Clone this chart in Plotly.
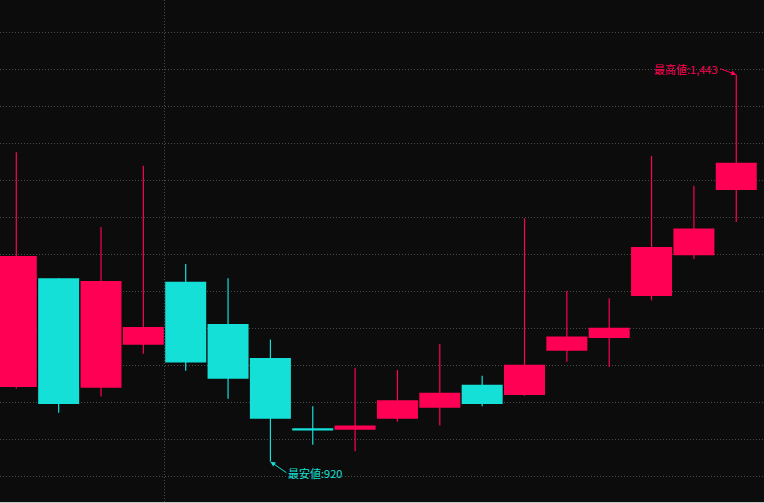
import plotly.graph_objects as go

# ---- data ----
idx = list(range(18))
open_ = [1021, 1168, 1020, 1078, 1163, 1106, 1060, 965, 963, 978, 993, 1024, 1010, 1070, 1087, 1144, 1199, 1287]
high = [1338, 1168, 1237, 1320, 1187, 1168, 1085, 995, 1047, 1044, 1079, 1036, 1249, 1151, 1141, 1333, 1293, 1443]
low = [1019, 986, 1008, 1066, 1043, 1005, 920, 943, 934, 974, 969, 995, 1009, 1055, 1048, 1138, 1194, 1244]
close = [1198, 998, 1164, 1102, 1054, 1032, 978, 962, 969, 1003, 1013, 998, 1051, 1089, 1101, 1210, 1235, 1324]

high_label = "最高値:1,443"
low_label = "最安値:920"
separator_x = [3.5]

RED = "#ff0055"
CYAN = "#14e0d8"
BG = "#0c0c0c"
GRID = "#4a4a4a"

fig = go.Figure()

for up, color in ((True, RED), (False, CYAN)):
    sel = [i for i in idx if (close[i] >= open_[i]) == up]
    # wicks
    wx, wy = [], []
    for i in sel:
        wx += [idx[i], idx[i], None]
        wy += [low[i], high[i], None]
    fig.add_trace(go.Scatter(x=wx, y=wy, mode="lines",
                             line=dict(color=color, width=1.2),
                             hoverinfo="skip"))
for up, color in ((True, RED), (False, CYAN)):
    sel = [i for i in idx if (close[i] >= open_[i]) == up]
    # bodies
    fig.add_trace(go.Bar(
        x=[idx[i] for i in sel],
        base=[min(open_[i], close[i]) for i in sel],
        y=[abs(close[i] - open_[i]) for i in sel],
        width=0.968,
        marker=dict(color=color, line=dict(width=0)),
        hoverinfo="skip",
    ))

hi_i = high.index(max(high))
lo_i = low.index(min(low))

fig.add_annotation(
    x=idx[hi_i], y=high[hi_i], text=high_label, showarrow=True,
    ax=-16, ay=-6, xanchor="right", yanchor="middle",
    font=dict(family="Noto Sans CJK JP", size=11, color=RED),
    arrowcolor=RED, arrowwidth=1, arrowhead=2, arrowsize=1, standoff=0,
)
fig.add_annotation(
    x=idx[lo_i], y=low[lo_i], text=low_label, showarrow=True,
    ax=16, ay=11, xanchor="left", yanchor="middle",
    font=dict(family="Noto Sans CJK JP", size=11, color=CYAN),
    arrowcolor=CYAN, arrowwidth=1, arrowhead=2, arrowsize=1, standoff=0,
)

fig.update_layout(
    width=764, height=503,
    margin=dict(l=0, r=0, t=0, b=1),
    paper_bgcolor="#c8c8c8",
    plot_bgcolor=BG,
    showlegend=False,
    barmode="overlay",
    hovermode=False,
    xaxis=dict(
        range=[-0.385, 17.655],
        tickvals=separator_x, showticklabels=False, ticks="",
        showgrid=True, gridcolor=GRID, gridwidth=1, griddash="1px,2px",
        zeroline=False, showline=False,
    ),
    yaxis=dict(
        range=[865.5, 1543.9], tick0=900, dtick=50,
        showticklabels=False, ticks="",
        showgrid=True, gridcolor=GRID, gridwidth=1, griddash="1px,2px",
        zeroline=False, showline=False,
    ),
)

fig.write_html("out.html", config={"displayModeBar": False},
               post_script="document.body.style.margin='0';document.body.style.overflow='hidden';")
